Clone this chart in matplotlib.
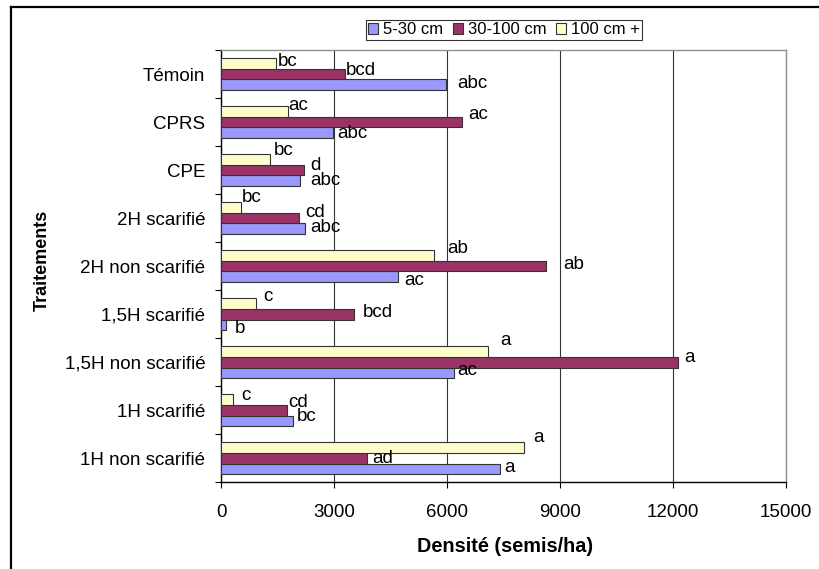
import matplotlib
matplotlib.use('Agg')
import matplotlib.pyplot as plt
from matplotlib.lines import Line2D
import numpy as np

plt.rcParams['font.family'] = ['Liberation Sans', 'DejaVu Sans']

# data (semis/ha), categories from top to bottom
traitements = ['Témoin', 'CPRS', 'CPE', '2H scarifié', '2H non scarifié',
               '1,5H scarifié', '1,5H non scarifié', '1H scarifié', '1H non scarifié']
series_names = ['5-30 cm', '30-100 cm', '100 cm +']
dens_5_30 = [5960, 2970, 2090, 2230, 4680, 110, 6180, 1890, 7390]
dens_30_100 = [3280, 6380, 2190, 2070, 8610, 3530, 12130, 1750, 3880]
dens_100p = [1450, 1780, 1300, 520, 5640, 930, 7080, 320, 8040]
lettres_5_30 = ['abc', 'abc', 'abc', 'abc', 'ac', 'b', 'ac', 'bc', 'a']
lettres_30_100 = ['bcd', 'ac', 'd', 'cd', 'ab', 'bcd', 'a', 'cd', 'ad']
lettres_100p = ['bc', 'ac', 'bc', 'bc', 'ab', 'c', 'a', 'c', 'a']
xticks = [0, 3000, 6000, 9000, 12000, 15000]

# label nudges (pixels) as placed by hand in the original
off_5_30 = [(11, 1), (4, -1), (10, 0), (5, 1), (7, -4), (9, -4), (3, 2), (4, 4), (5, 1)]
off_30_100 = [(1, 4), (7, 8), (6, 5), (6, 6), (18, 2), (8, 2), (6, 5), (1, 8), (5, 0)]
off_100p = [(2, 2), (0, 6), (3, 9), (1, 10), (14, 7), (7, 7), (12, 11), (8, 4), (9, 10)]

colors = ['#9999FF', '#993366', '#FFFFCC']
fs = 13.5

fig = plt.figure(figsize=(8.2, 5.69), dpi=100)
ax = fig.add_axes([0.2700, 0.1524, 0.6887, 0.7597])

y = np.arange(len(traitements))
h = 0.222
data = [dens_5_30, dens_30_100, dens_100p]
lettres = [lettres_5_30, lettres_30_100, lettres_100p]
offs = [off_5_30, off_30_100, off_100p]
shift = [h, 0, -h]

for k in range(3):
    ax.barh(y + shift[k], data[k], height=h, color=colors[k], edgecolor='#333333',
            linewidth=0.8, label=series_names[k], zorder=3)
    for i in range(len(traitements)):
        ax.annotate(lettres[k][i], xy=(data[k][i], y[i] + shift[k]),
                    xytext=offs[k][i], textcoords='offset pixels',
                    ha='left', va='center', fontsize=fs, zorder=4)

ax.set_xlim(0, 15000)
ax.set_ylim(len(traitements) - 0.5, -0.5)
ax.set_xticks(xticks)
ax.set_xticklabels([str(v) for v in xticks], fontsize=fs)
ax.tick_params(axis='x', direction='out', length=4.3, width=0.8, pad=11)

# group boundaries as major ticks, names as minor ticks
ax.set_yticks(np.arange(len(traitements) + 1) - 0.5)
ax.set_yticklabels([])
ax.set_yticks(y, minor=True)
ax.set_yticklabels(traitements, minor=True, fontsize=fs)
ax.tick_params(axis='y', which='major', direction='out', length=4.3, width=0.8)
ax.tick_params(axis='y', which='minor', length=0, pad=11.5)

ax.grid(True, axis='x', color='#333333', linewidth=0.8, zorder=0)
ax.set_axisbelow(True)
for s in ['top', 'right']:
    ax.spines[s].set_color('#909090')
    ax.spines[s].set_linewidth(1.0)
for s in ['left', 'bottom']:
    ax.spines[s].set_color('black')
    ax.spines[s].set_linewidth(1.0)

fig.text(0.0512, 0.542, 'Traitements', rotation=90, ha='center', va='center',
         fontsize=13, fontweight='bold')
fig.text(0.616, 0.039, 'Densité (semis/ha)', ha='center', va='center',
         fontsize=14.3, fontweight='bold')

leg = ax.legend(loc='center', bbox_to_anchor=(0.6146, 0.9473), bbox_transform=fig.transFigure,
                ncol=3, fontsize=12, frameon=True, fancybox=False, shadow=False,
                handlelength=0.6, handleheight=0.6, handletextpad=0.3,
                columnspacing=0.55, borderpad=0.15, borderaxespad=0)
leg.get_frame().set_edgecolor('black')
leg.get_frame().set_linewidth(0.8)

# outer frame left and top, as in the original
fig.add_artist(Line2D([0.0134, 0.0134], [0, 0.988], transform=fig.transFigure,
                      color='black', linewidth=1.6))
fig.add_artist(Line2D([0.0134, 1.0], [0.988, 0.988], transform=fig.transFigure,
                      color='black', linewidth=1.6))

fig.savefig('out.png', dpi=100)
